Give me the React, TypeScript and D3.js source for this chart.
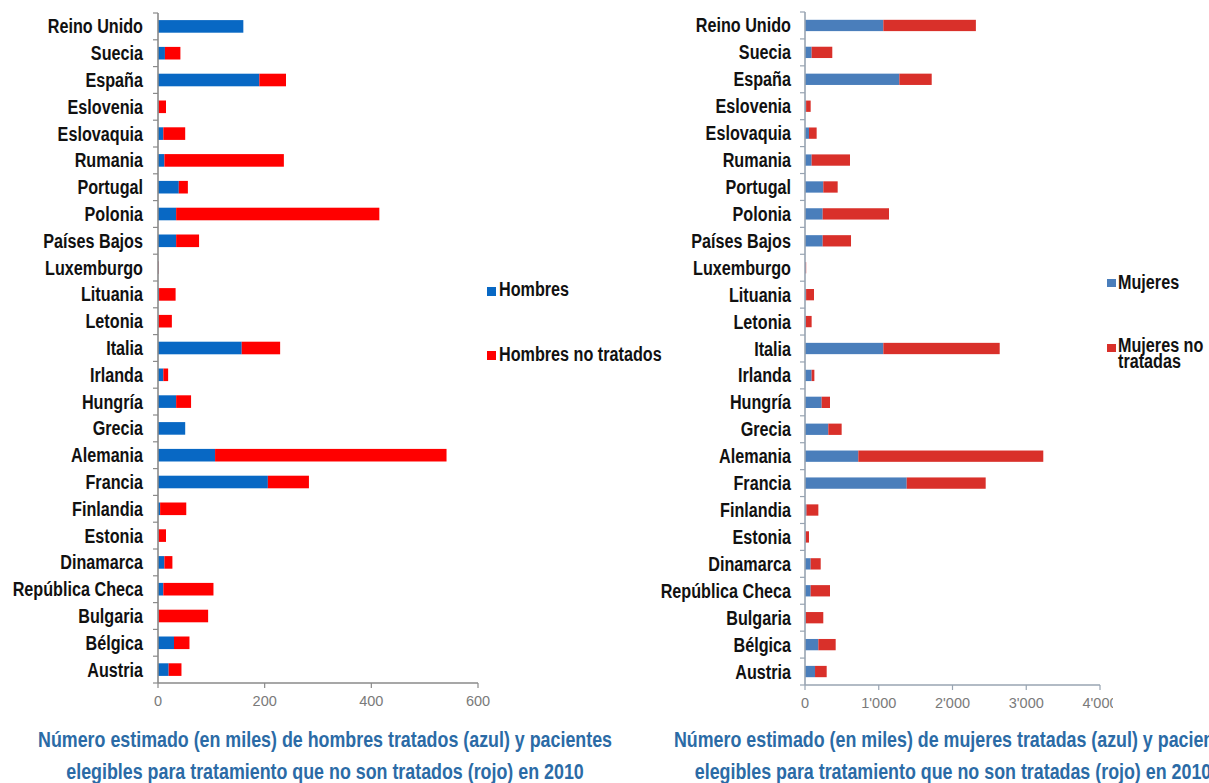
import React from "react";
import * as d3 from "d3";

// Países (de arriba abajo)
const countries = [
  "Reino Unido", "Suecia", "España", "Eslovenia", "Eslovaquia", "Rumania",
  "Portugal", "Polonia", "Países Bajos", "Luxemburgo", "Lituania", "Letonia",
  "Italia", "Irlanda", "Hungría", "Grecia", "Alemania", "Francia", "Finlandia",
  "Estonia", "Dinamarca", "República Checa", "Bulgaria", "Bélgica", "Austria",
];

// Hombres (miles): tratados y no tratados
const menTreated = [160, 13, 190, 1, 10, 12, 39, 34, 34, 0.5, 2, 1, 157, 10, 34, 51, 107, 206, 4, 1, 12, 10, 1, 30, 20];
const menUntreated = [0, 29, 50, 14, 41, 224, 17, 381, 43, 0.7, 31, 25, 72, 9, 28, 0, 434, 77, 49, 14, 15, 94, 93, 29, 24];

// Mujeres (miles): tratadas y no tratadas
const womenTreated = [1062, 90, 1279, 15, 54, 90, 248, 240, 240, 8, 15, 10, 1062, 90, 226, 316, 723, 1379, 20, 8, 77, 77, 10, 181, 136];
const womenUntreated = [1255, 280, 439, 62, 104, 520, 195, 899, 384, 8, 107, 80, 1578, 37, 113, 181, 2508, 1071, 161, 46, 136, 262, 238, 235, 158];

const menTicks = [0, 200, 400, 600];
const menTickLabels = ["0", "200", "400", "600"];
const womenTicks = [0, 1000, 2000, 3000, 4000];
const womenTickLabels = ["0", "1'000", "2'000", "3'000", "4'000"];

const menLegend = ["Hombres", "Hombres no tratados"];
const womenLegend = ["Mujeres", "Mujeres no", "tratadas"];

const menCaption = [
  "Número estimado (en miles) de hombres tratados (azul) y pacientes",
  "elegibles para tratamiento que no son tratados (rojo) en 2010",
];
const womenCaption = [
  "Número estimado (en miles) de mujeres tratadas (azul) y pacientes",
  "elegibles para tratamiento que no son tratadas (rojo) en 2010",
];

const LABEL_FONT = "'Liberation Sans', Arial, sans-serif";
const TICK_FONT = "'Liberation Sans', Arial, sans-serif";
const CAPTION_COLOR = "#2b6ba6";
const NARROW = 0.83;

type NarrowProps = {
  x: number;
  y: number;
  anchor?: "start" | "middle" | "end";
  size: number;
  fill: string;
  dy?: string;
  children: React.ReactNode;
};

// Bold text compressed horizontally, in the manner of a narrow face
function NarrowText({ x, y, anchor = "start", size, fill, dy, children }: NarrowProps) {
  return (
    <g transform={`translate(${x},${y}) scale(${NARROW},1)`}>
      <text
        x={0}
        y={0}
        dy={dy}
        textAnchor={anchor}
        fontFamily={LABEL_FONT}
        fontWeight="bold"
        fontSize={size}
        fill={fill}
      >
        {children}
      </text>
    </g>
  );
}

type PanelProps = {
  id: string;
  treated: number[];
  untreated: number[];
  domainMax: number;
  xRange: [number, number];
  yRange: [number, number];
  labelX: number;
  padding: number;
  ticks: number[];
  tickLabels: string[];
  blue: string;
  red: string;
  axisColor: string;
  tickClipRight?: number;
};

function Panel(p: PanelProps) {
  const x = d3.scaleLinear().domain([0, p.domainMax]).range(p.xRange);
  const y = d3
    .scaleBand<string>()
    .domain(countries)
    .range(p.yRange)
    .paddingInner(p.padding)
    .paddingOuter(p.padding / 2);
  const step = y.step();
  const x0 = x(0);
  const yBottom = p.yRange[1];
  const boundaries = d3.range(countries.length + 1).map((k) => p.yRange[0] + k * step);

  return (
    <g>
      {p.tickClipRight !== undefined && (
        <defs>
          <clipPath id={`clip-${p.id}`}>
            <rect x={0} y={0} width={p.tickClipRight} height={783} />
          </clipPath>
        </defs>
      )}
      {/* bars */}
      {countries.map((c, i) => {
        const yy = y(c) as number;
        const t = p.treated[i];
        const u = p.untreated[i];
        return (
          <g key={c}>
            <rect x={x0} y={yy} width={x(t) - x0} height={y.bandwidth()} fill={p.blue} />
            <rect x={x(t)} y={yy} width={x(t + u) - x(t)} height={y.bandwidth()} fill={p.red} />
          </g>
        );
      })}
      {/* category axis */}
      <line x1={x0} x2={x0} y1={p.yRange[0]} y2={yBottom} stroke={p.axisColor} strokeWidth={1.6} />
      {boundaries.map((b, k) => (
        <line key={k} x1={x0 - 5} x2={x0} y1={b} y2={b} stroke={p.axisColor} strokeWidth={1.2} />
      ))}
      {countries.map((c) => (
        <NarrowText
          key={c}
          x={p.labelX}
          y={(y(c) as number) + y.bandwidth() / 2}
          dy="0.36em"
          anchor="end"
          size={19.5}
          fill="#111"
        >
          {c}
        </NarrowText>
      ))}
      {/* value axis */}
      <line x1={x0} x2={x(p.domainMax)} y1={yBottom} y2={yBottom} stroke={p.axisColor} strokeWidth={1.6} />
      {p.ticks.map((t) => (
        <line key={t} x1={x(t)} x2={x(t)} y1={yBottom} y2={yBottom + 5} stroke={p.axisColor} strokeWidth={1.2} />
      ))}
      <g clipPath={p.tickClipRight !== undefined ? `url(#clip-${p.id})` : undefined}>
        {p.ticks.map((t, i) => (
          <text
            key={t}
            x={x(t)}
            y={yBottom + 23}
            textAnchor="middle"
            fontFamily={TICK_FONT}
            fontSize={14.5}
            fill="#7a7a7a"
          >
            {p.tickLabels[i]}
          </text>
        ))}
      </g>
    </g>
  );
}

export default function App() {
  return (
    <div style={{ position: "absolute", left: 0, top: 0 }}>
      <svg width={1209} height={783} style={{ display: "block", background: "#fff" }}>
        <Panel
          id="men"
          treated={menTreated}
          untreated={menUntreated}
          domainMax={600}
          xRange={[158, 478]}
          yRange={[13, 683]}
          labelX={143}
          padding={0.53}
          ticks={menTicks}
          tickLabels={menTickLabels}
          blue="#0868c4"
          red="#ff0000"
          axisColor="#8a8a8a"
        />
        <Panel
          id="women"
          treated={womenTreated}
          untreated={womenUntreated}
          domainMax={4000}
          xRange={[805, 1100]}
          yRange={[12, 685]}
          labelX={791}
          padding={0.58}
          ticks={womenTicks}
          tickLabels={womenTickLabels}
          blue="#4a7ebb"
          red="#d9302a"
          axisColor="#98a4b2"
          tickClipRight={1113}
        />

        {/* legends */}
        <rect x={487} y={287} width={9} height={9} fill="#0868c4" />
        <NarrowText x={499} y={296} size={19.5} fill="#111">{menLegend[0]}</NarrowText>
        <rect x={487} y={351} width={9} height={9} fill="#ff0000" />
        <NarrowText x={499} y={360.5} size={19.5} fill="#111">{menLegend[1]}</NarrowText>

        <rect x={1107} y={279} width={9} height={8} fill="#4a7ebb" />
        <NarrowText x={1118} y={289} size={19.5} fill="#111">{womenLegend[0]}</NarrowText>
        <rect x={1107} y={344} width={9} height={8} fill="#d9302a" />
        <NarrowText x={1118} y={352} size={19.5} fill="#111">{womenLegend[1]}</NarrowText>
        <NarrowText x={1118} y={367.5} size={19.5} fill="#111">{womenLegend[2]}</NarrowText>

        {/* captions */}
        <NarrowText x={325} y={747} anchor="middle" size={21.5} fill={CAPTION_COLOR}>{menCaption[0]}</NarrowText>
        <NarrowText x={325} y={779} anchor="middle" size={21.5} fill={CAPTION_COLOR}>{menCaption[1]}</NarrowText>
        <NarrowText x={957} y={747} anchor="middle" size={21.5} fill={CAPTION_COLOR}>{womenCaption[0]}</NarrowText>
        <NarrowText x={953} y={779} anchor="middle" size={21.5} fill={CAPTION_COLOR}>{womenCaption[1]}</NarrowText>
      </svg>
    </div>
  );
}
